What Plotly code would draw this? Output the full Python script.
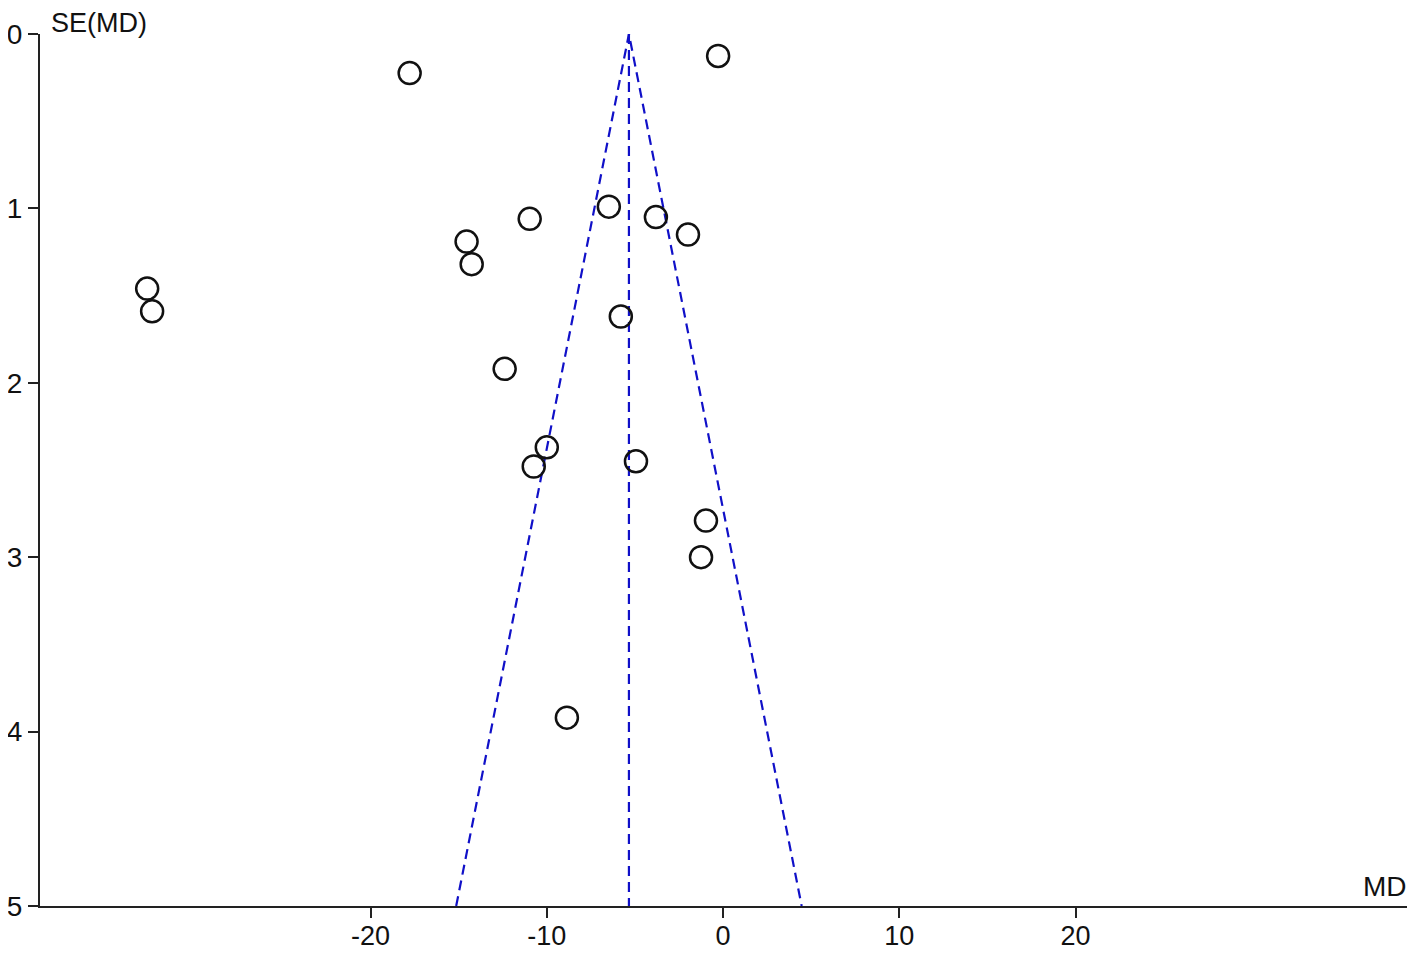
import plotly.graph_objects as go

# Study estimates (mean difference) and their standard errors
md_values = [-17.78, -0.28, -6.48, -10.97, -3.81, -1.99, -14.55, -14.26, -32.67, -32.39,
             -5.80, -12.39, -10.00, -10.74, -4.94, -0.97, -1.25, -8.86]
se_values = [0.224, 0.126, 0.99, 1.06, 1.05, 1.15, 1.19, 1.32, 1.46, 1.59,
             1.62, 1.92, 2.37, 2.48, 2.45, 2.79, 3.00, 3.92]

# Pooled estimate and funnel limits
pooled_md = -5.34
funnel_se = [0, 5]
z_crit = 1.96

x_ticks = [-20, -10, 0, 10, 20]
y_ticks = [0, 1, 2, 3, 4, 5]

line_color = "#1010c8"
font_family = "Liberation Sans, Arial, sans-serif"

fig = go.Figure()

# Funnel boundaries
left_x = [pooled_md - z_crit * s for s in funnel_se]
right_x = [pooled_md + z_crit * s for s in funnel_se]
fig.add_trace(go.Scatter(x=[left_x[1], left_x[0], right_x[1]],
                         y=[funnel_se[1], funnel_se[0], funnel_se[1]],
                         mode="lines", line=dict(color=line_color, width=2.2, dash="10px,6px"),
                         hoverinfo="skip", showlegend=False))
fig.add_trace(go.Scatter(x=[pooled_md, pooled_md], y=funnel_se,
                         mode="lines", line=dict(color=line_color, width=2.2, dash="10px,6px"),
                         hoverinfo="skip", showlegend=False))

# Study points
fig.add_trace(go.Scatter(x=md_values, y=se_values, mode="markers",
                         marker=dict(symbol="circle-open", size=22, color="#111111",
                                     line=dict(width=2.5, color="#111111")),
                         showlegend=False))

fig.update_layout(
    width=1409, height=948,
    margin=dict(l=32, r=10, t=26, b=50),
    paper_bgcolor="white", plot_bgcolor="white",
    font=dict(family=font_family, size=29, color="#111111"),
    xaxis=dict(range=[-38.75, 38.8], tickvals=x_ticks, ticktext=[str(v) for v in x_ticks],
               showgrid=False, zeroline=False, showline=True, linecolor="#222222", linewidth=2,
               ticks="outside", ticklen=10, tickwidth=2, tickcolor="#222222",
               tickfont=dict(size=27), ticklabelstandoff=-5, automargin=False),
    yaxis=dict(range=[5, 0], tickvals=y_ticks, ticktext=[str(v) for v in y_ticks],
               showgrid=False, zeroline=False, showline=True, linecolor="#222222", linewidth=2,
               ticks="outside", ticklen=10, tickwidth=2, tickcolor="#222222",
               tickfont=dict(size=28), automargin=False),
    annotations=[
        dict(text="SE(MD)", xref="paper", yref="paper", x=0.0, y=1.0,
             xanchor="left", yanchor="middle", xshift=10, yshift=11, borderpad=0,
             showarrow=False, font=dict(size=27)),
        dict(text="MD", xref="paper", yref="paper", x=1.0, y=0.0,
             xanchor="right", yanchor="middle", xshift=2, yshift=20, showarrow=False,
             font=dict(size=28)),
    ],
)

fig.write_html("out.html")
